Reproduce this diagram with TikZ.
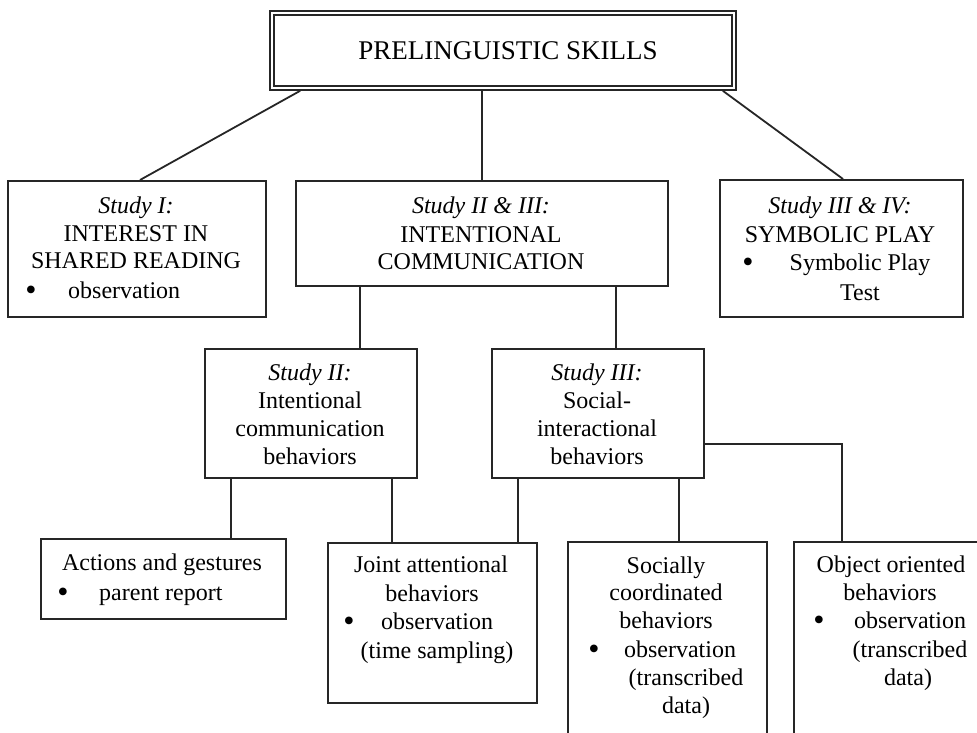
\documentclass[tikz,border=0pt]{standalone}
\usepackage{fontspec}
\setmainfont{Liberation Serif}
\begin{document}
\begin{tikzpicture}[x=1pt,y=-1pt,
  box/.style={draw=black!85, line width=1.8pt, rectangle, inner sep=0pt, anchor=north west},
  topbox/.style={draw=black!85, line width=1.5pt, double, double distance=2.6pt, rectangle, inner sep=0pt, outer sep=2.8pt},
  link/.style={draw=black!85, line width=1.8pt},
  txt/.style={anchor=base, inner sep=0pt, font=\fontsize{24}{28}\selectfont},
  txtl/.style={anchor=base west, inner sep=0pt, font=\fontsize{24}{28}\selectfont},
  bul/.style={anchor=base, inner sep=0pt, font=\fontsize{32}{28}\selectfont}]
\useasboundingbox (0,0) rectangle (977,733);
\clip (0,0) rectangle (977,733);

% boxes
\node[topbox, minimum width=462pt, minimum height=75pt] (top) at (503,50.5) {};
\node[box, minimum width=258pt, minimum height=136pt] (s1) at (7,180) {};
\node[box, minimum width=372pt, minimum height=105pt] (s23) at (295,180) {};
\node[box, minimum width=243pt, minimum height=137pt] (s34) at (719,179) {};
\node[box, minimum width=212pt, minimum height=129pt] (s2) at (204,348) {};
\node[box, minimum width=212pt, minimum height=129pt] (s3) at (491,348) {};
\node[box, minimum width=245pt, minimum height=80pt] (act) at (40,538) {};
\node[box, minimum width=209pt, minimum height=160pt] (joint) at (327,542) {};
\node[box, minimum width=199pt, minimum height=210pt] (soc) at (567,541) {};
\node[box, minimum width=210pt, minimum height=210pt] (obj) at (793,541) {};

% connectors
\draw[link] ([xshift=31pt]top.south west) -- ([xshift=133pt]s1.north west);
\draw[link] (s23.north |- top.south) -- (s23.north);
\draw[link] ([xshift=-14pt]top.south east) -- ([xshift=124pt]s34.north west);
\draw[link] ([xshift=65pt]s23.south west) coordinate (c1) -- (c1 |- s2.north);
\draw[link] ([xshift=321pt]s23.south west) coordinate (c2) -- (c2 |- s3.north);
\draw[link] ([xshift=27pt]s2.south west) coordinate (c3) -- (c3 |- act.north);
\draw[link] ([xshift=188pt]s2.south west) coordinate (c4) -- (c4 |- joint.north);
\draw[link] ([xshift=27pt]s3.south west) coordinate (c5) -- (c5 |- joint.north);
\draw[link] ([xshift=188pt]s3.south west) coordinate (c6) -- (c6 |- soc.north);
\draw[link] ([yshift=-30.5pt]s3.east) -| ([xshift=49pt]obj.north west);

% title
\node[anchor=base, inner sep=0pt, font=\fontsize{27}{32}\selectfont] (ttl) at (508,60) {PRELINGUISTIC SKILLS};

% Study I
\node[txt] (s1a) at (136,213) {\itshape Study I:};
\node[txt] (s1b) at (136,241) {INTEREST IN};
\node[txt] (s1c) at (136,268) {SHARED READING};
\node[bul] (s1d) at (31,300) {\textbullet};
\node[txtl] (s1e) at (68,298) {observation};

% Study II & III
\node[txt] (s23a) at (481,213) {\itshape Study II \& III:};
\node[txt] (s23b) at (481,242) {INTENTIONAL};
\node[txt] (s23c) at (481,269) {COMMUNICATION};

% Study III & IV
\node[txt] (s34a) at (840,213) {\itshape Study III \& IV:};
\node[txt] (s34b) at (840,242) {SYMBOLIC PLAY};
\node[bul] (s34c) at (748,272) {\textbullet};
\node[txt] (s34d) at (860,270) {Symbolic Play};
\node[txt] (s34e) at (860,300) {Test};

% Study II
\node[txt] (s2a) at (310,380) {\itshape Study II:};
\node[txt] (s2b) at (310,408) {Intentional};
\node[txt] (s2c) at (310,436) {communication};
\node[txt] (s2d) at (310,464) {behaviors};

% Study III
\node[txt] (s3a) at (597,380) {\itshape Study III:};
\node[txt] (s3b) at (597,408) {Social-};
\node[txt] (s3c) at (597,436) {interactional};
\node[txt] (s3d) at (597,464) {behaviors};

% Actions
\node[txt] (acta) at (162,570) {Actions and gestures};
\node[bul] (actb) at (63,602) {\textbullet};
\node[txtl] (actc) at (99,600) {parent report};

% Joint
\node[txt] (ja) at (431,572) {Joint attentional};
\node[txt] (jb) at (432,601) {behaviors};
\node[bul] (jc) at (349,631) {\textbullet};
\node[txt] (jd) at (437,629) {observation};
\node[txt] (je) at (437,658) {(time sampling)};

% Socially
\node[txt] (sa) at (666,573) {Socially};
\node[txt] (sb) at (666,600) {coordinated};
\node[txt] (sc) at (666,628) {behaviors};
\node[bul] (sd) at (594,659) {\textbullet};
\node[txt] (se) at (680,657) {observation};
\node[txt] (sf) at (686,685) {(transcribed};
\node[txt] (sg) at (686,713) {data)};

% Object
\node[txt] (oa) at (891,572) {Object oriented};
\node[txt] (ob) at (890,600) {behaviors};
\node[bul] (oc) at (819,630) {\textbullet};
\node[txt] (od) at (910,628) {observation};
\node[txt] (oe) at (910,657) {(transcribed};
\node[txt] (of) at (908,685) {data)};
\end{tikzpicture}
\end{document}
